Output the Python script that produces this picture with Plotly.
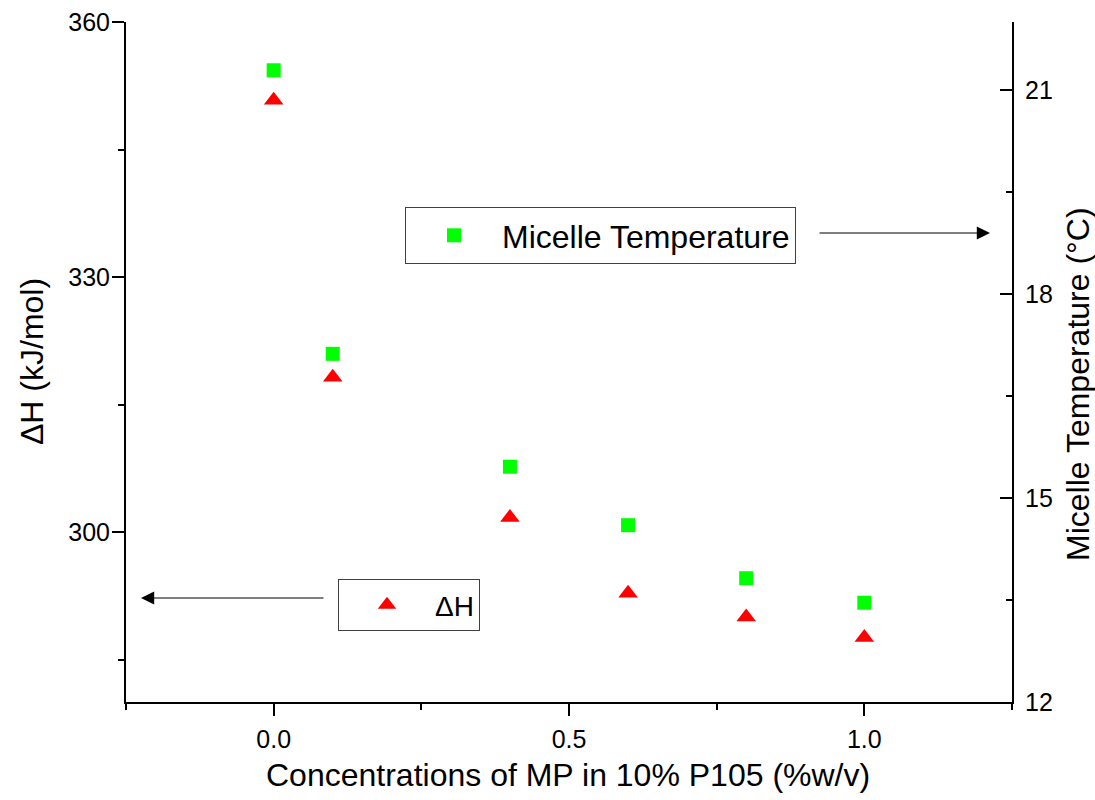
import plotly.graph_objects as go

# Data
conc = [0.0, 0.1, 0.4, 0.6, 0.8, 1.0]
delta_h = [350.8, 318.2, 301.7, 292.8, 290.0, 287.6]
micelle_temp = [21.29, 17.12, 15.46, 14.60, 13.82, 13.46]

x_ticks = [0.0, 0.5, 1.0]
x_ticklabels = ["0.0", "0.5", "1.0"]

FONT = "Liberation Sans, Arial, sans-serif"

fig = go.Figure()

fig.add_trace(go.Scatter(
    x=conc, y=micelle_temp, mode="markers", name="Micelle Temperature",
    marker=dict(symbol="square", size=14, color="#00FF00"),
    yaxis="y2", legend="legend",
))
fig.add_trace(go.Scatter(
    x=conc, y=delta_h, mode="markers", name="ΔH",
    marker=dict(symbol="triangle-up", size=17, color="#FF0000"),
    yaxis="y", legend="legend2",
))

PW = 1012 - 126
PH = 702 - 22

def px(x):
    return (x - 126) / PW

def py(y):
    return (702 - y) / PH

legend_common = dict(
    bordercolor="#404040", borderwidth=1, bgcolor="rgba(255,255,255,0)",
    itemwidth=86, xanchor="left", yanchor="top", xref="paper", yref="paper",
    itemclick=False, itemdoubleclick=False,
)

fig.update_layout(
    width=1095, height=800,
    margin=dict(l=126, r=83, t=22, b=98, pad=0),
    paper_bgcolor="white", plot_bgcolor="white",
    font=dict(family=FONT, color="black"),
    showlegend=True,
    legend=dict(x=px(405), y=py(207), font=dict(family=FONT, size=32, color="black"),
                **legend_common),
    legend2=dict(x=px(338), y=py(579), font=dict(family=FONT, size=28, color="black"),
                 **legend_common),
    xaxis=dict(
        range=[-0.25, 1.25], tickmode="array", tickvals=x_ticks, ticktext=x_ticklabels,
        showline=True, linecolor="black", linewidth=2, mirror=False,
        ticks="outside", ticklen=12, tickwidth=2, tickcolor="black",
        minor=dict(ticks="outside", ticklen=6, tickwidth=2, tickcolor="black",
                   tickmode="array", tickvals=[-0.25, 0.25, 0.75, 1.25]),
        showgrid=False, zeroline=False, automargin=False,
        tickfont=dict(family=FONT, size=25),
        ticklabelstandoff=2,
    ),
    yaxis=dict(
        range=[280, 360], tick0=300, dtick=30, tickmode="linear",
        showline=True, linecolor="black", linewidth=2, mirror=False,
        ticks="outside", ticklen=12, tickwidth=2, tickcolor="black",
        minor=dict(ticks="outside", ticklen=6, tickwidth=2, tickcolor="black",
                   tick0=285, dtick=30),
        showgrid=False, zeroline=False, automargin=False,
        tickfont=dict(family=FONT, size=25),
        ticklabelstandoff=-3,
    ),
    yaxis2=dict(
        range=[12, 22], tick0=12, dtick=3, tickmode="linear",
        overlaying="y", side="right", anchor="x",
        showline=True, linecolor="black", linewidth=2,
        ticks="inside", ticklen=12, tickwidth=2, tickcolor="black",
        minor=dict(ticks="inside", ticklen=6, tickwidth=2, tickcolor="black",
                   tick0=13.5, dtick=3),
        showgrid=False, zeroline=False, automargin=False,
        tickfont=dict(family=FONT, size=25),
        ticklabelstandoff=6,
    ),
    annotations=[
        dict(xref="paper", yref="paper", x=px(990), y=py(233), text="",
             showarrow=True, axref="pixel", ayref="pixel", ax=-172, ay=0,
             arrowhead=2, arrowsize=2.2, arrowwidth=1.2, arrowcolor="black", standoff=0),
        dict(xref="paper", yref="paper", x=px(141), y=py(598), text="",
             showarrow=True, axref="pixel", ayref="pixel", ax=184, ay=0,
             arrowhead=2, arrowsize=2.2, arrowwidth=1.2, arrowcolor="black", standoff=0),
        dict(xref="paper", yref="paper", x=px(568), y=py(775), text="Concentrations of MP in 10% P105 (%w/v)",
             showarrow=False, xanchor="center", yanchor="middle",
             font=dict(family=FONT, size=32, color="black")),
        dict(xref="paper", yref="paper", x=px(32), y=py(362), text="ΔH (kJ/mol)",
             showarrow=False, xanchor="center", yanchor="middle", textangle=-90,
             font=dict(family=FONT, size=32, color="black")),
        dict(xref="paper", yref="paper", x=px(1078), y=py(384), text="Micelle Temperature (°C)",
             showarrow=False, xanchor="center", yanchor="middle", textangle=-90,
             font=dict(family=FONT, size=32, color="black")),
    ],
)

fig.write_html("out.html")
